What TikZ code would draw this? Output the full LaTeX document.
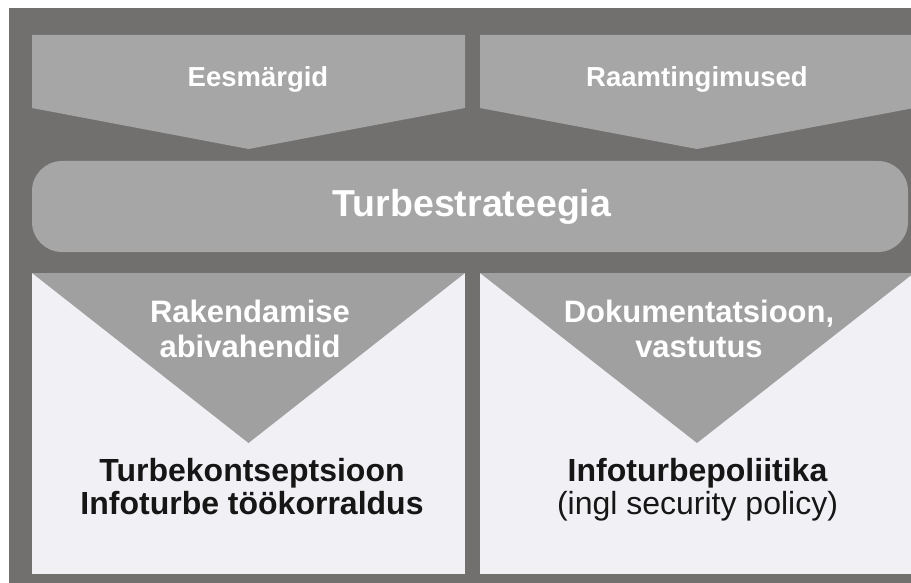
\documentclass[tikz,border=0pt]{standalone}
\usepackage{fontspec}
\setmainfont{Liberation Sans}
\definecolor{bgdark}{RGB}{114,111,111}
\definecolor{shapegray}{RGB}{166,166,166}
\definecolor{trigray}{RGB}{160,160,160}
\definecolor{boxwhite}{RGB}{241,241,245}
\definecolor{textdark}{RGB}{22,22,22}

\begin{document}
\begin{tikzpicture}[x=1pt, y=-1pt,
    toplabel/.style={white, font=\fontsize{27.5}{33}\selectfont\bfseries, inner sep=0pt, anchor=base},
    headlabel/.style={white, font=\fontsize{31}{35}\selectfont\bfseries, align=center, inner sep=0pt, anchor=base},
    boxtext/.style={textdark, font=\fontsize{32}{33}\selectfont, align=center, inner sep=0pt, anchor=base}]
    \useasboundingbox (0, 0) rectangle (911, 583);
    \fill[bgdark] (9, 8) rectangle (920, 590);

    % inputs at the top
    \fill[shapegray] (32, 35) -- (465, 35) -- (465, 108) -- (248.5, 149) -- (32, 108) -- cycle;
    \fill[shapegray] (480, 35) -- (914, 35) -- (914, 108) -- (697, 149) -- (480, 108) -- cycle;
    \node[toplabel] (eesmargid) at (258, 87) {Eesmärgid};
    \node[toplabel] (raamtingimused) at (697, 87) {Raamtingimused};

    % strategy bar
    \fill[shapegray, rounded corners=30] (32, 161) rectangle (908, 252);
    \node[white, font=\fontsize{37.5}{40}\selectfont\bfseries, inner sep=0pt, anchor=base] (strateegia) at (472, 217) {Turbestrateegia};

    % left box
    \fill[boxwhite] (32, 273) rectangle (465, 574);
    \fill[trigray] (32, 273) -- (465, 273) -- (248.5, 443) -- cycle;
    \node[headlabel] (rakendamine) at (250, 357) {Rakendamise\\abivahendid};
    \node[boxtext, font=\fontsize{32}{33}\selectfont\bfseries] (kontseptsioon) at (252, 514) {Turbekontseptsioon\\Infoturbe töökorraldus};

    % right box
    \fill[boxwhite] (480, 273) rectangle (914, 574);
    \fill[trigray] (480, 273) -- (914, 273) -- (697, 443) -- cycle;
    \node[headlabel] (dokumentatsioon) at (699, 357) {Dokumentatsioon,\\vastutus};
    \node[boxtext] (poliitika) at (697.5, 514) {{\bfseries Infoturbepoliitika}\\(ingl security policy)};
\end{tikzpicture}
\end{document}
